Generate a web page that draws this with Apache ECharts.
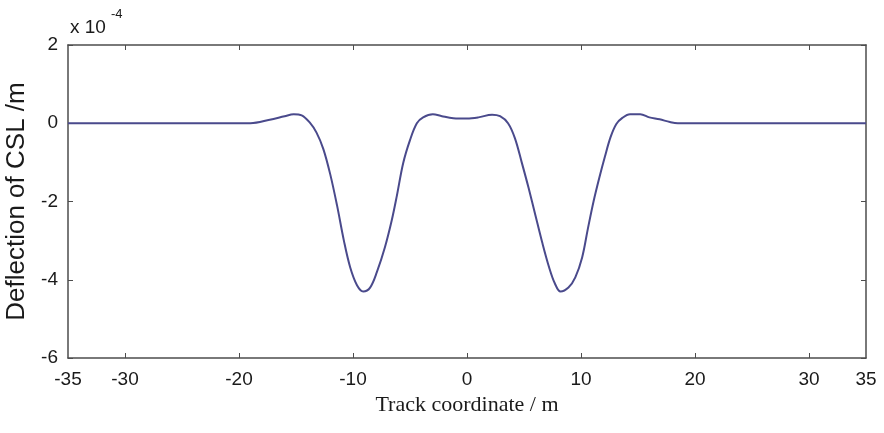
<!DOCTYPE html>
<html>
<head>
<meta charset="utf-8">
<script src="https://cdn.jsdelivr.net/npm/echarts@6/dist/echarts.min.js"></script>
<style>html,body{margin:0;padding:0;background:#fff;}#c{width:884px;height:433px;}</style>
</head>
<body>
<div id="c"></div>
<script>
// Track coordinate (m)
var trackX = [-35, -19, -17.3, -16, -15.2, -14.5, -13.8, -13.2, -12.6, -12.0, -11.4, -10.8, -10.25, -9.65, -9.1, -8.5, -7.9, -7.2, -6.6, -6.15, -5.6, -5.0, -4.4, -3.85, -3.0, -2.2, -1.2, 0, 1.0, 2.2, 2.9, 3.6, 4.2, 4.8, 5.4, 6.0, 6.6, 7.2, 7.7, 8.2, 8.9, 9.5, 10.1, 10.6, 11.1, 11.6, 12.1, 12.6, 13.1, 13.6, 14.3, 15.2, 16.0, 16.9, 17.8, 18.5, 35];
// Deflection of CSL (x 1e-4 m)
var deflection = [0, 0, 0.09, 0.18, 0.23, 0.2, 0.02, -0.24, -0.66, -1.3, -2.1, -3.0, -3.68, -4.14, -4.3, -4.2, -3.8, -3.17, -2.48, -1.85, -1.02, -0.43, 0, 0.15, 0.23, 0.18, 0.13, 0.12, 0.15, 0.22, 0.18, 0, -0.38, -1.0, -1.65, -2.35, -3.05, -3.68, -4.09, -4.3, -4.2, -3.94, -3.43, -2.7, -2.0, -1.4, -0.85, -0.35, -0.02, 0.13, 0.23, 0.23, 0.15, 0.1, 0.03, 0, 0];
var xTicks = [-30, -20, -10, 0, 10, 20, 30];
var xLabels = [-35, -30, -20, -10, 0, 10, 20, 30, 35];

var data = trackX.map(function (x, i) { return [x, deflection[i]]; });
var axisColor = '#4d4d4d';
var labelFont = { color: '#1a1a1a', fontFamily: 'Liberation Sans, Arial, sans-serif', fontSize: 19 };

var chart = echarts.init(document.getElementById('c'));
chart.setOption({
  animation: false,
  backgroundColor: '#fff',
  grid: { left: 68, right: 18, top: 45, bottom: 75, containLabel: false, outerBoundsMode: 'none' },
  graphic: [
    { type: 'text', left: 70, top: 18, style: { text: 'x 10', font: '19px Liberation Sans, Arial, sans-serif', fill: '#1a1a1a' } },
    { type: 'text', left: 111, top: 8, style: { text: '-4', font: '13px Liberation Sans, Arial, sans-serif', fill: '#1a1a1a' } }
  ],
  xAxis: [{
    type: 'value', min: -35, max: 35, position: 'bottom',
    name: 'Track coordinate / m', nameLocation: 'middle', nameGap: 33,
    nameTextStyle: { fontFamily: 'Liberation Serif, Times New Roman, serif', fontSize: 22, color: '#1a1a1a' },
    axisLine: { show: true, onZero: false, lineStyle: { color: axisColor, width: 1.5 } },
    axisTick: { show: true, inside: true, length: 5, customValues: xTicks, lineStyle: { color: axisColor } },
    axisLabel: Object.assign({ customValues: xLabels, margin: 12 }, labelFont),
    splitLine: { show: false }
  }, {
    type: 'value', min: -35, max: 35, position: 'top',
    axisLine: { show: true, onZero: false, lineStyle: { color: axisColor, width: 1.5 } },
    axisTick: { show: true, inside: true, length: 5, customValues: xTicks, lineStyle: { color: axisColor } },
    axisLabel: { show: false },
    splitLine: { show: false }
  }],
  yAxis: [{
    type: 'value', min: -6, max: 2, interval: 2, position: 'left',
    name: 'Deflection of CSL /m', nameLocation: 'middle', nameGap: 32, nameRotate: 90,
    nameTextStyle: { fontFamily: 'Liberation Sans, Arial, sans-serif', fontSize: 26, color: '#1a1a1a' },
    axisLine: { show: true, onZero: false, lineStyle: { color: axisColor, width: 1.5 } },
    axisTick: { show: true, inside: true, length: 5, lineStyle: { color: axisColor } },
    axisLabel: Object.assign({ margin: 10 }, labelFont),
    splitLine: { show: false }
  }, {
    type: 'value', min: -6, max: 2, interval: 2, position: 'right',
    axisLine: { show: true, onZero: false, lineStyle: { color: axisColor, width: 1.5 } },
    axisTick: { show: true, inside: true, length: 5, lineStyle: { color: axisColor } },
    axisLabel: { show: false },
    splitLine: { show: false }
  }],
  series: [{
    type: 'line', data: data, xAxisIndex: 0, yAxisIndex: 0,
    showSymbol: false, smooth: 0.35,
    lineStyle: { color: '#4a4a8c', width: 2 }
  }]
});
</script>
</body>
</html>
